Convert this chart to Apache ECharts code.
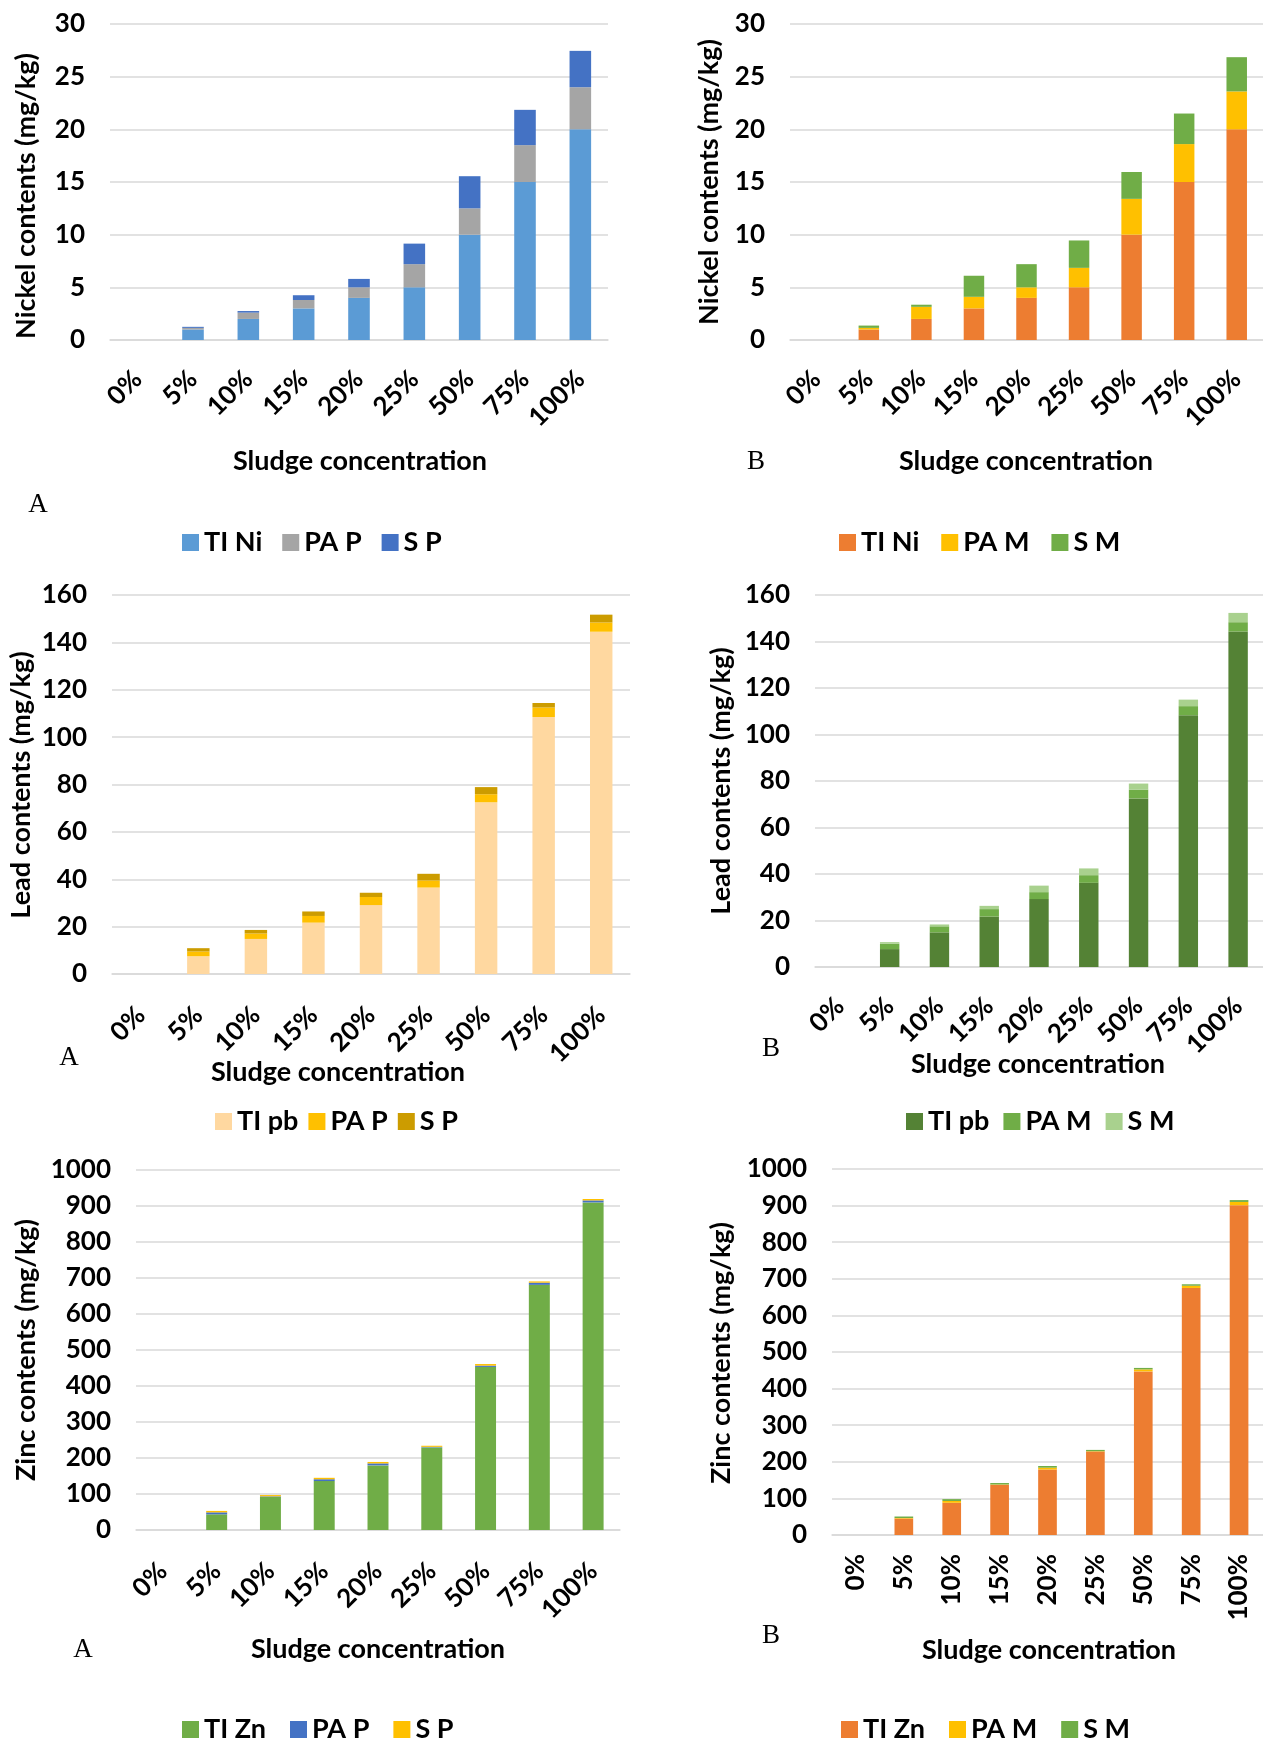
<!DOCTYPE html>
<html>
<head>
<meta charset="utf-8">
<title>Heavy metal contents by sludge concentration</title>
<script src="https://cdn.jsdelivr.net/npm/echarts@6/dist/echarts.min.js"></script>
<style>
  html, body { margin: 0; padding: 0; background: #ffffff; }
  #page { position: relative; width: 1263px; height: 1742px; overflow: hidden; background: #ffffff; }
  .panel { position: absolute; left: 0; top: 0; width: 1263px; height: 1742px; }
</style>
</head>
<body>
<div id="page"></div>
<script>
// ---- data ---------------------------------------------------------------
const categories = ['0%', '5%', '10%', '15%', '20%', '25%', '50%', '75%', '100%'];

// Nickel (mg/kg)
const niNamesA = ['TI Ni', 'PA P', 'S P'];
const niA_TI = [0, 1, 2, 3, 4, 5, 10, 15, 20];
const niA_PA = [0, 0.15, 0.6, 0.8, 1.0, 2.2, 2.5, 3.5, 4.0];
const niA_S  = [0, 0.1, 0.15, 0.45, 0.8, 1.95, 3.05, 3.35, 3.45];

const niNamesB = ['TI Ni', 'PA M', 'S M'];
const niB_TI = [0, 1, 2, 3, 4, 5, 10, 15, 20];
const niB_PA = [0, 0.15, 1.15, 1.1, 1.0, 1.85, 3.4, 3.6, 3.6];
const niB_S  = [0, 0.22, 0.2, 2.0, 2.2, 2.6, 2.55, 2.9, 3.25];

// Lead (mg/kg)
const pbNamesA = ['TI pb', 'PA P', 'S P'];
const pbA_TI = [0, 7.5, 14.8, 21.7, 29.1, 36.5, 72.5, 108.5, 144.5];
const pbA_PA = [0, 2.0, 2.3, 2.8, 3.4, 3.0, 3.4, 4.0, 3.9];
const pbA_S  = [0, 1.4, 1.5, 1.9, 1.8, 2.8, 3.0, 1.9, 3.3];

const pbNamesB = ['TI pb', 'PA M', 'S M'];
const pbB_TI = [0, 7.7, 14.9, 21.7, 29.2, 36.2, 72.5, 108.3, 144.3];
const pbB_PA = [0, 2.3, 2.6, 3.2, 3.0, 3.3, 3.8, 3.9, 4.0];
const pbB_S  = [0, 0.7, 0.8, 1.4, 2.8, 2.9, 2.6, 2.8, 4.0];

// Zinc (mg/kg)
const znNamesA = ['TI Zn', 'PA P', 'S P'];
const znA_TI = [0, 43.5, 92, 136, 179.5, 229.5, 453, 681, 910];
const znA_PA = [0, 5.5, 1.5, 5, 5.5, 1.5, 3.5, 6, 5.5];
const znA_S  = [0, 4, 3.5, 4, 4, 3, 4.5, 3.5, 4];

const znNamesB = ['TI Zn', 'PA M', 'S M'];
const znB_TI = [0, 45, 88, 137, 179, 228, 447, 675, 901];
const znB_PA = [0, 1.5, 5, 1, 5, 1, 5.5, 6, 9];
const znB_S  = [0, 4, 5, 4, 4.5, 3.5, 4, 4, 5];

// ---- styling ------------------------------------------------------------
const SANS = 'Lato, "Open Sans", "Noto Sans", sans-serif';
const SERIF = '"Liberation Serif", "DejaVu Serif", serif';
const GRID_COLOR = '#d9d9d9';
const TICK_SIZE = 26;   // axis tick labels
const TEXT_SIZE = 27;   // axis titles and legend

const panels = [
  { grid: { left: 110, top: 24, width: 498, height: 316 }, yMax: 30, yStep: 5,
    yTitle: 'Nickel contents (mg/kg)', yTitleAt: [26, 196], xTitleAt: [360, 461],
    letter: 'A', letterAt: [38, 505], legendAt: [177, 524], legendGap: 20, rotate: 45, labelMargin: 35,
    names: niNamesA, colors: ['#5b9bd5', '#a5a5a5', '#4472c4'], values: [niA_TI, niA_PA, niA_S] },
  { grid: { left: 790, top: 24, width: 473, height: 316 }, yMax: 30, yStep: 5,
    yTitle: 'Nickel contents (mg/kg)', yTitleAt: [709, 182], xTitleAt: [1026, 461],
    letter: 'B', letterAt: [756, 462], legendAt: [834, 524], legendGap: 22, rotate: 45, labelMargin: 35,
    names: niNamesB, colors: ['#ed7d31', '#ffc000', '#70ad47'], values: [niB_TI, niB_PA, niB_S] },
  { grid: { left: 112, top: 595, width: 518, height: 379 }, yMax: 160, yStep: 20,
    yTitle: 'Lead contents (mg/kg)', yTitleAt: [21, 785], xTitleAt: [338, 1072],
    letter: 'A', letterAt: [69, 1058], legendAt: [210, 1103], legendGap: 10, rotate: 45, labelMargin: 37,
    names: pbNamesA, colors: ['#ffd8a0', '#ffc000', '#cc9c00'], values: [pbA_TI, pbA_PA, pbA_S] },
  { grid: { left: 815, top: 595, width: 458, height: 372 }, yMax: 160, yStep: 20,
    yTitle: 'Lead contents (mg/kg)', yTitleAt: [721, 781], xTitleAt: [1038, 1064],
    letter: 'B', letterAt: [771, 1049], legendAt: [901, 1103], legendGap: 14, rotate: 45, labelMargin: 35,
    names: pbNamesB, colors: ['#548235', '#70ad47', '#a9d18e'], values: [pbB_TI, pbB_PA, pbB_S] },
  { grid: { left: 136, top: 1170, width: 484, height: 360 }, yMax: 1000, yStep: 100,
    yTitle: 'Zinc contents (mg/kg)', yTitleAt: [26, 1350], xTitleAt: [378, 1649],
    letter: 'A', letterAt: [83, 1650], legendAt: [177, 1711], legendGap: 24, rotate: 45, labelMargin: 37,
    names: znNamesA, colors: ['#70ad47', '#4472c4', '#ffc000'], values: [znA_TI, znA_PA, znA_S] },
  { grid: { left: 832, top: 1169, width: 433, height: 366 }, yMax: 1000, yStep: 100,
    yTitle: 'Zinc contents (mg/kg)', yTitleAt: [721, 1353], xTitleAt: [1049, 1650],
    letter: 'B', letterAt: [771, 1636], legendAt: [836, 1711], legendGap: 24, rotate: 90, labelMargin: 19,
    names: znNamesB, colors: ['#ed7d31', '#ffc000', '#70ad47'], values: [znB_TI, znB_PA, znB_S] }
];

function textEl(str, pos, opts) {
  return {
    type: 'text', x: pos[0], y: pos[1], rotation: opts.rotation || 0, silent: true,
    style: {
      text: str, fill: '#000000', align: 'center', verticalAlign: 'middle',
      fontFamily: opts.family || SANS, fontSize: opts.size || TEXT_SIZE,
      fontWeight: opts.weight || 'bold'
    }
  };
}

const page = document.getElementById('page');
panels.forEach(function (p) {
  const el = document.createElement('div');
  el.className = 'panel';
  page.appendChild(el);
  const chart = echarts.init(el, null, { renderer: 'canvas' });

  chart.setOption({
    animation: false,
    backgroundColor: 'transparent',
    grid: p.grid,
    legend: {
      left: p.legendAt[0], top: p.legendAt[1], orient: 'horizontal',
      icon: 'rect', itemWidth: 17, itemHeight: 17, itemGap: p.legendGap,
      selectedMode: false, data: p.names,
      textStyle: { fontFamily: SANS, fontSize: TEXT_SIZE, fontWeight: 'bold', color: '#000000' }
    },
    xAxis: {
      type: 'category', data: categories,
      axisLine: { show: true, lineStyle: { color: GRID_COLOR, width: 1.5 } },
      axisTick: { show: false },
      axisLabel: {
        interval: 0, rotate: p.rotate, margin: p.labelMargin, color: '#000000',
        fontFamily: SANS, fontSize: TICK_SIZE, fontWeight: 'bold'
      }
    },
    yAxis: {
      type: 'value', min: 0, max: p.yMax, interval: p.yStep,
      axisLine: { show: false }, axisTick: { show: false },
      splitLine: { lineStyle: { color: GRID_COLOR, width: 1.5 } },
      axisLabel: {
        margin: 25, color: '#000000', fontFamily: SANS, fontSize: TICK_SIZE, fontWeight: 'bold',
        formatter: function (v) { return String(v); }
      }
    },
    series: p.names.map(function (name, i) {
      return {
        type: 'bar', name: name, stack: 'total', barWidth: '39%',
        itemStyle: { color: p.colors[i] },
        data: p.values[i]
      };
    }),
    graphic: [
      textEl(p.yTitle, p.yTitleAt, { rotation: Math.PI / 2 }),
      textEl('Sludge concentration', p.xTitleAt, {}),
      textEl(p.letter, p.letterAt, { family: SERIF, size: 27, weight: 'normal' })
    ]
  });
});
</script>
</body>
</html>
